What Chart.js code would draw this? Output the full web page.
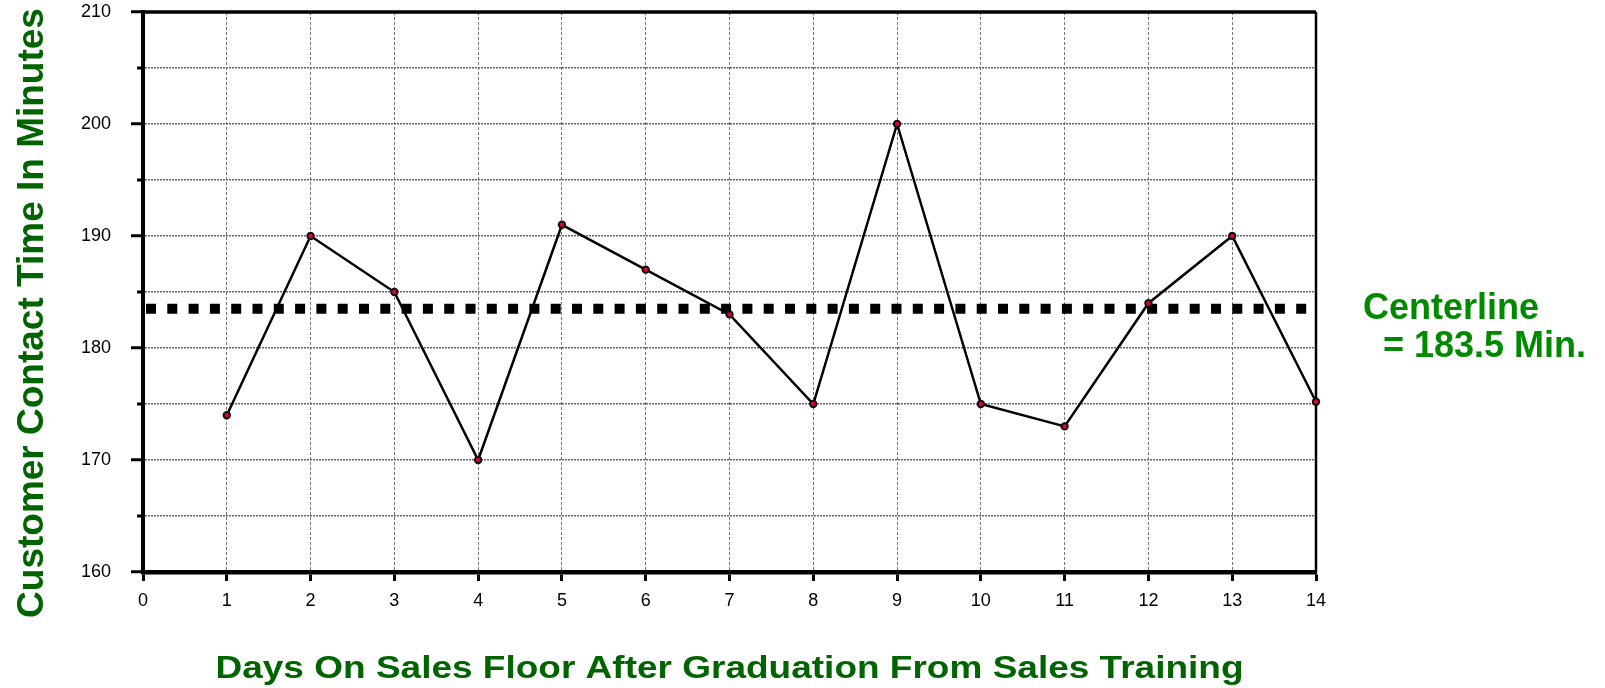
<!DOCTYPE html>
<html>
<head>
<meta charset="utf-8">
<script src="https://cdn.jsdelivr.net/npm/chart.js@4.4.0/dist/chart.umd.min.js"></script>
<style>
html, body { margin: 0; padding: 0; background: #fff; }
</style>
</head>
<body>
<canvas id="myChart" width="1605" height="688"></canvas>
<script>
var days = [1, 2, 3, 4, 5, 6, 7, 8, 9, 10, 11, 12, 13, 14];
var contactMinutes = [174, 190, 185, 170, 191, 187, 183, 175, 200, 175, 173, 184, 190, 175.2];
var centerline = 183.5;
var centerlineText = ['Centerline', '= 183.5 Min.'];
var xTitle = 'Days On Sales Floor After Graduation From Sales Training';
var yTitle = 'Customer Contact Time In Minutes';
var yMin = 160, yMax = 210, yStep = 5;
var xMin = 0, xMax = 14;

var points = days.map(function (d, i) { return { x: d, y: contactMinutes[i] }; });
var centerPts = [{ x: xMin, y: centerline }, { x: xMax, y: centerline }];

// frame, minor ticks and the titles
var extras = {
	id: 'extras',
	beforeDatasetsDraw: function (chart) {
		var ctx = chart.ctx, a = chart.chartArea, ys = chart.scales.y;
		ctx.save();
		ctx.strokeStyle = '#000';
		ctx.lineWidth = 3.5;
		ctx.beginPath();
		ctx.moveTo(a.left, a.top);
		ctx.lineTo(a.right, a.top);
		ctx.stroke();
		ctx.lineWidth = 2.5;
		ctx.beginPath();
		ctx.moveTo(a.right, a.top);
		ctx.lineTo(a.right, a.bottom);
		ctx.stroke();
		ctx.lineWidth = 3;
		ys.ticks.forEach(function (t) {
			if (t.value % 10 !== 0) {
				var py = ys.getPixelForValue(t.value);
				ctx.beginPath();
				ctx.moveTo(a.left - 6, py);
				ctx.lineTo(a.left, py);
				ctx.stroke();
			}
		});
		ctx.restore();
	},
	afterDraw: function (chart) {
		var ctx = chart.ctx, a = chart.chartArea, ys = chart.scales.y;
		ctx.save();
		ctx.fillStyle = '#006400';
		ctx.font = 'bold 37px "Liberation Sans", Arial, sans-serif';
		ctx.textAlign = 'center';
		ctx.textBaseline = 'alphabetic';

		ctx.save();
		ctx.translate(43, 313);
		ctx.rotate(-Math.PI / 2);
		ctx.fillText(yTitle, 0, 0);
		ctx.restore();

		ctx.save();
		ctx.translate((a.left + a.right) / 2, 678);
		ctx.scale(1, 0.87);
		ctx.fillText(xTitle, 0, 0);
		ctx.restore();

		var cy = ys.getPixelForValue(centerline);
		ctx.fillStyle = '#008a00';
		ctx.font = 'bold 36px "Liberation Sans", Arial, sans-serif';
		ctx.textAlign = 'left';
		ctx.fillText(centerlineText[0], a.right + 47, cy + 10);
		ctx.fillText(centerlineText[1], a.right + 67, cy + 48);
		ctx.restore();
	}
};

new Chart(document.getElementById('myChart'), {
	type: 'line',
	data: {
		datasets: [{
			label: 'Contact time',
			data: points,
			borderColor: '#000',
			borderWidth: 2.5,
			pointRadius: 3.2,
			pointBorderWidth: 2,
			pointBorderColor: '#111',
			pointBackgroundColor: '#e0002a',
			tension: 0,
			clip: false,
			order: 1
		}, {
			label: 'Centerline',
			data: centerPts,
			borderColor: '#000',
			borderWidth: 10,
			borderDash: [10, 11.3],
			borderDashOffset: -3,
			borderCapStyle: 'butt',
			pointRadius: 0,
			order: 2
		}]
	},
	options: {
		responsive: false,
		devicePixelRatio: 1,
		animation: false,
		layout: { padding: { left: 0, right: 289, top: 12, bottom: 0 } },
		plugins: { legend: { display: false }, tooltip: { enabled: false } },
		scales: {
			x: {
				type: 'linear',
				min: xMin,
				max: xMax,
				afterFit: function (s) { s.height = 116; },
				ticks: {
					stepSize: 1,
					color: '#000',
					padding: 9,
					maxRotation: 0,
					font: { family: '"Liberation Sans", Arial, sans-serif', size: 18 }
				},
				grid: {
					color: '#777',
					lineWidth: 1,
					tickLength: 9,
					tickColor: '#000',
					tickWidth: 3
				},
				border: { display: true, color: '#000', width: 4.5, dash: [3, 2] }
			},
			y: {
				min: yMin,
				max: yMax,
				afterFit: function (s) { s.width = 143; s.paddingTop = 0; s.paddingBottom = 0; },
				ticks: {
					stepSize: yStep,
					color: '#000',
					padding: 20,
					font: { family: '"Liberation Sans", Arial, sans-serif', size: 18 },
					callback: function (v) { return v % 10 === 0 ? v : ''; }
				},
				grid: {
					color: '#666',
					lineWidth: 1.5,
					tickLength: 12,
					tickWidth: 3,
					tickColor: function (c) { return c.tick && c.tick.value % 10 === 0 ? '#000' : 'rgba(0,0,0,0)'; }
				},
				border: { display: true, color: '#000', width: 4, dash: [2, 1] }
			}
		}
	},
	plugins: [extras]
});
</script>
</body>
</html>
